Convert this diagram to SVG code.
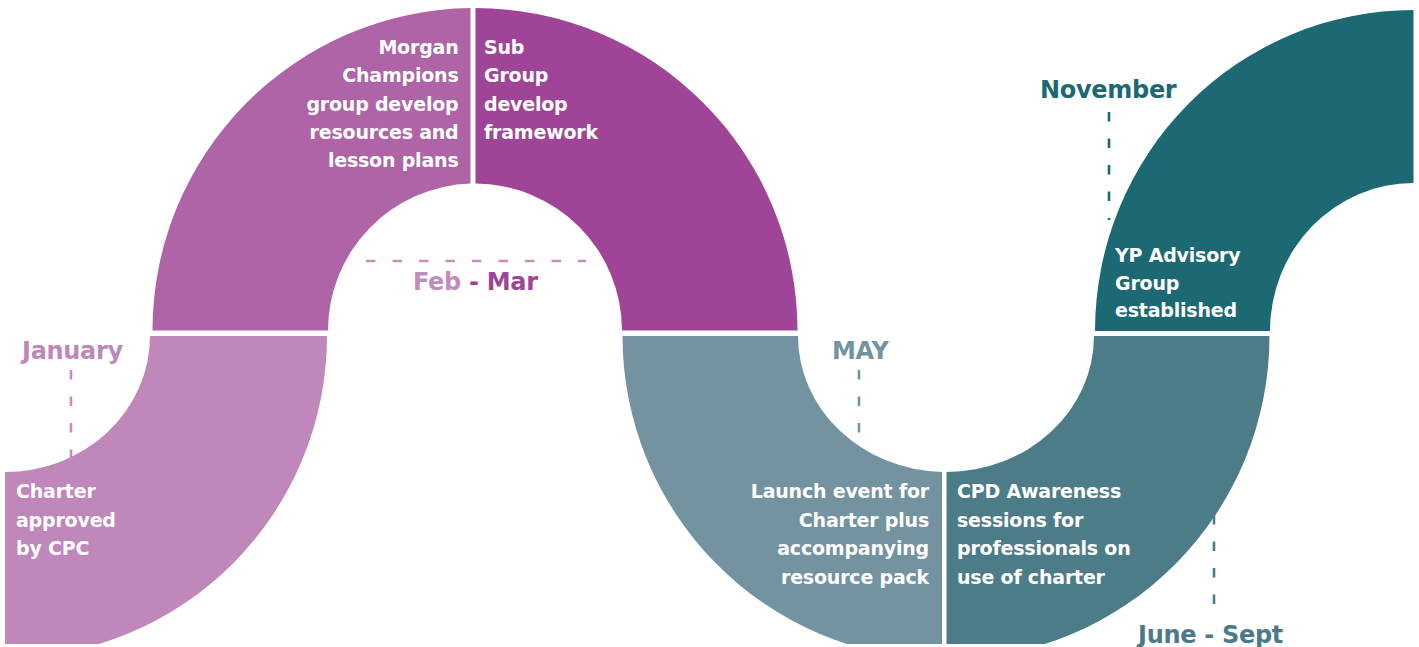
<svg xmlns="http://www.w3.org/2000/svg" width="1419" height="647" viewBox="0 0 1419 647">
<style>
.body{font-family:"DejaVu Sans","Liberation Sans",sans-serif;font-weight:bold;font-size:19px;fill:#ffffff;letter-spacing:-0.2px}
.lbl{font-family:"DejaVu Sans","Liberation Sans",sans-serif;font-weight:bold;font-size:24px;letter-spacing:-0.3px}
.dash{fill:none;stroke-width:2.6;stroke-dasharray:9.5 17}
</style>
<defs>
<clipPath id="cl"><rect x="0" y="0" width="1419" height="644"/></clipPath>
</defs>
<rect width="1419" height="647" fill="#ffffff"/>
<g id="connectors">
<line class="dash" x1="71" y1="370" x2="71" y2="458" stroke="#C58EC0"/>
<line class="dash" x1="366" y1="261" x2="586" y2="261" stroke="#C78EC1"/>
<line class="dash" x1="859" y1="370" x2="859" y2="442" stroke="#7393A0"/>
<line class="dash" x1="1109" y1="112" x2="1109" y2="220" stroke="#1C6873"/>
<line class="dash" x1="1214" y1="515" x2="1214" y2="615" stroke="#4D7C89"/>
</g>
<g clip-path="url(#cl)">
<g id="node-january">
<path d="M150,336 L327,336 A322 322 0 0 1 5,658 L5,472 A145 136 0 0 0 150,336 Z" fill="#BF87BA"/>
<text class="body" x="16" y="498">Charter</text>
<text class="body" x="16" y="526.5">approved</text>
<text class="body" x="16" y="555">by CPC</text>
<text class="lbl" x="22" y="359" fill="#BF87BA">January</text>
</g>
<g id="node-morgan">
<path d="M152.5,330.5 A322.5 322.5 0 0 1 470.5,8.03 L470.5,183.57 A147 147 0 0 0 328,330.5 Z" fill="#AE64A6"/>
<text class="body" text-anchor="end" x="458.5" y="53.5">Morgan</text>
<text class="body" text-anchor="end" x="458.5" y="82">Champions</text>
<text class="body" text-anchor="end" x="458.5" y="110.5">group develop</text>
<text class="body" text-anchor="end" x="458.5" y="139">resources and</text>
<text class="body" text-anchor="end" x="458.5" y="167">lesson plans</text>
</g>
<g id="node-subgroup">
<path d="M475.5,8.03 A322.5 322.5 0 0 1 797.5,330.5 L622,330.5 A147 147 0 0 0 475.5,183.57 Z" fill="#A04498"/>
<text class="body" x="484" y="53.5">Sub</text>
<text class="body" x="484" y="82">Group</text>
<text class="body" x="484" y="110.5">develop</text>
<text class="body" x="484" y="139">framework</text>
</g>
<g id="node-febmar">
<text class="lbl" x="413" y="290"><tspan fill="#C28BBD">Feb </tspan><tspan fill="#A04498">- Mar</tspan></text>
</g>
<g id="node-launch">
<path d="M622.5,336 L798,336 A148 136 0 0 0 942,471.95 L942,659.5 A323.5 323.5 0 0 1 622.5,336 Z" fill="#7393A0"/>
<text class="body" text-anchor="end" x="929" y="498">Launch event for</text>
<text class="body" text-anchor="end" x="929" y="526.5">Charter plus</text>
<text class="body" text-anchor="end" x="929" y="555">accompanying</text>
<text class="body" text-anchor="end" x="929" y="583.5">resource pack</text>
<text class="lbl" x="832" y="359" fill="#7393A0">MAY</text>
</g>
<g id="node-cpd">
<path d="M946.5,471.95 A148 136 0 0 0 1094,336 L1269.5,336 A323.5 323.5 0 0 1 946.5,659.5 Z" fill="#4D7C89"/>
<text class="body" x="957" y="498">CPD Awareness</text>
<text class="body" x="957" y="526.5">sessions for</text>
<text class="body" x="957" y="555">professionals on</text>
<text class="body" x="957" y="583.5">use of charter</text>
</g>
<g id="node-yp">
<path d="M1095,331 A318.5 321 0 0 1 1413.5,10 L1413.5,183 A143.5 148 0 0 0 1270,331 Z" fill="#1C6873"/>
<text class="body" x="1115" y="261.5">YP Advisory</text>
<text class="body" x="1115" y="289.5">Group</text>
<text class="body" x="1115" y="317">established</text>
<text class="lbl" x="1040" y="98" fill="#1C6873">November</text>
</g>
</g>
<g id="node-junesept">
<text class="lbl" x="1138" y="643" fill="#4A7A87" letter-spacing="0">June - Sept</text>
</g>
</svg>
